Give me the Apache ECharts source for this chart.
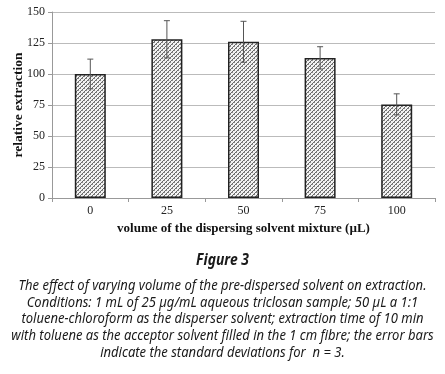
<!DOCTYPE html>
<html>
<head>
<meta charset="utf-8">
<script src="https://cdn.jsdelivr.net/npm/echarts@6/dist/echarts.min.js"></script>
<style>
  html, body { margin: 0; padding: 0; background: #fff; }
  #chart { width: 445px; height: 374px; }
</style>
</head>
<body>
<div id="chart"></div>
<script>
const categories = ["0", "25", "50", "75", "100"];
const values = [100, 128, 126, 113, 75.5];
const errors = [12, 15, 16.5, 9, 8.5];
const yTicks = [0, 25, 50, 75, 100, 125, 150];

const captionTitle = "Figure 3";
const captionLines = [
  "The effect of varying volume of the pre-dispersed solvent on extraction.",
  "Conditions: 1 mL of 25 µg/mL aqueous triclosan sample; 50 µL a 1:1",
  "toluene-chloroform as the disperser solvent; extraction time of 10 min",
  "with toluene as the acceptor solvent filled in the 1 cm fibre; the error bars",
  "indicate the standard deviations for  n = 3.",
];

// hatch pattern for the bars
const hatch = document.createElement("canvas");
hatch.width = 4;
hatch.height = 4;
const hc = hatch.getContext("2d");
hc.fillStyle = "#f2f2f2";
hc.fillRect(0, 0, 4, 4);
hc.strokeStyle = "#6a6a6a";
hc.lineWidth = 1;
hc.beginPath();
hc.moveTo(-1, 5); hc.lineTo(5, -1);
hc.moveTo(-1, 1); hc.lineTo(1, -1);
hc.moveTo(3, 5); hc.lineTo(5, 3);
hc.stroke();
hc.fillStyle = "#8a8a8a";
hc.fillRect(0, 0, 1, 1);
hc.fillRect(2, 2, 1, 1);

const serif = "'Liberation Serif', 'Times New Roman', serif";
const capFamily = "'Noto Sans', 'Open Sans', sans-serif";
const capFont = "italic 15px " + capFamily;
const capBold = "italic bold 16px " + capFamily;

// squeeze the caption to the narrow face of the original
const mc = document.createElement("canvas").getContext("2d");
mc.font = capFont;
const squeeze = 408 / mc.measureText(captionLines[0]).width;

const cx = 222.5;
const captionGraphics = [
  {
    type: "text",
    x: cx,
    y: 260,
    scaleX: squeeze,
    style: { text: captionTitle, font: capBold, fill: "#1a1a1a", textAlign: "center", textVerticalAlign: "middle" },
  },
].concat(
  captionLines.map((line, i) => ({
    type: "text",
    x: cx,
    y: 286 + i * 16.6,
    scaleX: squeeze,
    style: { text: line, font: capFont, fill: "#1a1a1a", textAlign: "center", textVerticalAlign: "middle" },
  }))
);

const chart = echarts.init(document.getElementById("chart"));
chart.setOption({
  animation: false,
  grid: { left: 52, right: 10, top: 12, bottom: 176, outerBoundsMode: "none" },
  graphic: captionGraphics,
  xAxis: {
    type: "category",
    data: categories,
    name: "volume of the dispersing solvent mixture (µL)",
    nameLocation: "middle",
    nameGap: 24,
    nameTextStyle: { fontFamily: serif, fontWeight: "bold", fontSize: 13, color: "#111" },
    axisLine: { lineStyle: { color: "#999", width: 1 } },
    axisTick: { show: true, length: 4, lineStyle: { color: "#999" } },
    axisLabel: { fontFamily: serif, fontSize: 12, color: "#222", margin: 7 },
  },
  yAxis: {
    type: "value",
    min: yTicks[0],
    max: yTicks[yTicks.length - 1],
    interval: 25,
    name: "relative extraction",
    nameLocation: "middle",
    nameGap: 26,
    nameMoveOverlap: false,
    nameTextStyle: { fontFamily: serif, fontWeight: "bold", fontSize: 13.5, color: "#111" },
    axisLine: { show: true, lineStyle: { color: "#999", width: 1 } },
    axisTick: { show: true, length: 4, lineStyle: { color: "#999" } },
    axisLabel: { fontFamily: serif, fontSize: 12, color: "#222", margin: 7 },
    splitLine: { lineStyle: { color: "#bbb", width: 1 } },
  },
  series: [
    {
      type: "bar",
      data: values,
      barWidth: 31,
      itemStyle: {
        color: { image: hatch, repeat: "repeat" },
        borderColor: "#222",
        borderWidth: 1.5,
      },
    },
    {
      type: "custom",
      data: values.map((v, i) => [i, v, errors[i]]),
      z: 5,
      renderItem: (params, api) => {
        const x = api.value(0);
        const v = api.value(1);
        const e = api.value(2);
        const top = api.coord([x, v + e]);
        const bot = api.coord([x, v - e]);
        const hw = 3;
        const style = { stroke: "#555", lineWidth: 1 };
        return {
          type: "group",
          children: [
            { type: "line", shape: { x1: top[0], y1: top[1], x2: bot[0], y2: bot[1] }, style },
            { type: "line", shape: { x1: top[0] - hw, y1: top[1], x2: top[0] + hw, y2: top[1] }, style },
            { type: "line", shape: { x1: bot[0] - hw, y1: bot[1], x2: bot[0] + hw, y2: bot[1] }, style },
          ],
        };
      },
    },
  ],
});
</script>
</body>
</html>
